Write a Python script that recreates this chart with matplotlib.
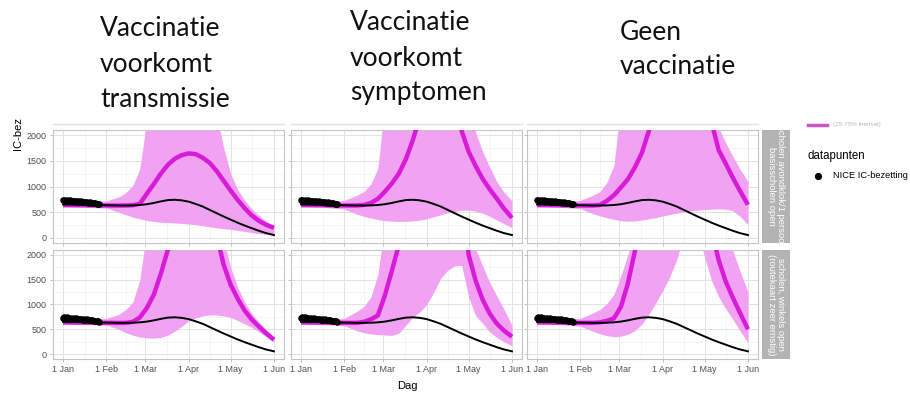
import matplotlib
matplotlib.use("Agg")
import matplotlib.pyplot as plt
from matplotlib.lines import Line2D

plt.rcParams['font.family'] = ['Liberation Sans', 'DejaVu Sans']

# ---- data ----
days = [0, 15, 31, 40, 45, 50, 55, 60, 65, 70, 75, 80, 85, 90, 95, 100,
        105, 110, 115, 120, 125, 130, 135, 140, 145, 151]

# NICE data points, 1 Jan .. 27 Jan
dot_days = list(range(27))
dot_vals = [735, 745, 725, 740, 720, 730, 715, 725, 710, 720, 705, 715, 700, 710,
            695, 705, 690, 700, 685, 690, 680, 685, 670, 675, 665, 660, 655]

# black reference curve (same in every panel)
ref_line = [650, 645, 635, 630, 630, 632, 640, 655, 680, 710, 735, 742, 730, 705,
            660, 610, 545, 480, 415, 355, 295, 240, 190, 140, 95, 55]

# magenta scenario: median, lower and upper bound (values above 2100 run off the panel)
mag_tl = [640, 635, 630, 628, 630, 635, 665, 860, 1050, 1250, 1420, 1540, 1610, 1645,
          1630, 1560, 1460, 1300, 1110, 920, 740, 580, 440, 335, 260, 195]
lo_tl = [600, 595, 580, 500, 450, 405, 370, 340, 320, 305, 295, 290, 280, 270,
         255, 235, 215, 195, 180, 165, 145, 125, 105, 85, 70, 55]
hi_tl = [690, 690, 720, 800, 880, 1020, 1350, 2300, 4000, 4000, 4000, 4000, 4000, 4000,
         4000, 4000, 4000, 2400, 1750, 1250, 940, 730, 570, 440, 330, 230]

mag_tm = [640, 635, 630, 630, 640, 680, 760, 900, 1060, 1250, 1530, 1900, 2350, 3500,
          3500, 3500, 3500, 3500, 2080, 1680, 1400, 1150, 950, 770, 580, 390]
lo_tm = [600, 595, 560, 460, 420, 385, 355, 335, 325, 320, 322, 330, 345, 370,
         410, 450, 490, 515, 535, 540, 520, 480, 420, 350, 280, 200]
hi_tm = [690, 690, 730, 830, 900, 1050, 1350, 2600, 4000, 4000, 4000, 4000, 4000, 4000,
         4000, 4000, 4000, 4000, 4000, 4000, 2050, 1680, 1380, 1100, 900, 720]

mag_tr = [640, 635, 630, 630, 640, 720, 830, 980, 1140, 1370, 1650, 2080, 2600, 3500,
          3500, 3500, 3500, 3500, 3500, 3500, 2250, 1710, 1450, 1180, 930, 645]
lo_tr = [600, 595, 570, 470, 430, 390, 360, 335, 325, 330, 345, 370, 395, 425,
         455, 480, 505, 525, 540, 550, 560, 565, 560, 530, 430, 260]
hi_tr = [690, 690, 730, 830, 900, 1080, 1400, 2600, 4000, 4000, 4000, 4000, 4000, 4000,
         4000, 4000, 4000, 4000, 4000, 4000, 4000, 2150, 1850, 1600, 1350, 1100]

mag_bl = [640, 635, 630, 628, 630, 650, 740, 930, 1200, 1620, 2100, 2700, 3500, 3500,
          3500, 3500, 3500, 2400, 1800, 1400, 1120, 880, 700, 560, 430, 290]
lo_bl = [600, 595, 580, 500, 430, 380, 345, 325, 320, 335, 380, 460, 560, 670,
         730, 770, 790, 790, 770, 740, 680, 610, 540, 450, 360, 240]
hi_bl = [690, 690, 720, 800, 900, 1050, 1500, 2500, 4000, 4000, 4000, 4000, 4000, 4000,
         4000, 4000, 4000, 4000, 2300, 1750, 1350, 1050, 820, 650, 500, 340]

mag_bm = [640, 635, 630, 630, 650, 700, 780, 1180, 1680, 2200, 2700, 3500, 3500, 3500,
          3500, 3500, 3500, 3500, 3500, 2000, 1480, 1100, 820, 620, 480, 350]
lo_bm = [600, 595, 570, 470, 430, 405, 395, 385, 375, 420, 580, 740, 850, 1000,
         1250, 1530, 1690, 1780, 1790, 1150, 775, 620, 450, 340, 250, 166]
hi_bm = [690, 690, 720, 860, 960, 1150, 1600, 2600, 4000, 4000, 4000, 4000, 4000, 4000,
         4000, 4000, 4000, 4000, 4000, 4000, 2120, 1780, 1450, 1180, 920, 580]

mag_br = [640, 635, 630, 630, 640, 670, 720, 950, 1420, 2070, 2700, 3500, 3500, 3500,
          3500, 3500, 3500, 3500, 3500, 3500, 2500, 1900, 1470, 1150, 850, 500]
lo_br = [600, 595, 560, 460, 410, 370, 350, 360, 400, 470, 600, 800, 1030, 1280,
         1560, 1900, 2400, 2800, 2500, 1950, 1480, 1160, 920, 710, 480, 230]
hi_br = [690, 690, 720, 830, 900, 1020, 1200, 1580, 2000, 2500, 4000, 4000, 4000, 4000,
         4000, 4000, 4000, 4000, 4000, 4000, 4000, 4000, 2600, 2100, 1700, 1250]

panels = [[(mag_tl, lo_tl, hi_tl), (mag_tm, lo_tm, hi_tm), (mag_tr, lo_tr, hi_tr)],
          [(mag_bl, lo_bl, hi_bl), (mag_bm, lo_bm, hi_bm), (mag_br, lo_br, hi_br)]]

month_days = [0, 31, 59, 90, 120, 151]
month_labels = ['1 Jan', '1 Feb', '1 Mar', '1 Apr', '1 May', '1 Jun']
y_ticks = [0, 500, 1000, 1500, 2000]

titles = [["Vaccinatie", "voorkomt", "transmissie"],
          ["Vaccinatie", "voorkomt", "symptomen"],
          ["Geen", "vaccinatie"]]
strip_labels = ["scholen avondklok/1 persoon\nbasisscholen open",
                "scholen, winkels open\n(routekaart zeer ernstig)"]

# ---- layout ----
W, H = 910, 395
fig = plt.figure(figsize=(W / 100, H / 100), dpi=100)


def box(x0, y0, x1, y1):
    return [x0 / W, 1 - y1 / H, (x1 - x0) / W, (y1 - y0) / H]


col_x = [(53, 284), (291, 522), (527, 758)]
row_y = [(130, 243), (250, 359)]

mag_col = '#d81bd8'
band_col = '#f2a2f2'
minor_x = [(month_days[i] + month_days[i + 1]) / 2 for i in range(5)]

for r in range(2):
    for c in range(3):
        ax = fig.add_axes(box(col_x[c][0], row_y[r][0], col_x[c][1], row_y[r][1]))
        mag, lo, hi = panels[r][c]
        ax.fill_between(days, lo, hi, color=band_col, lw=0, zorder=2)
        ax.plot(days, mag, color=mag_col, lw=3.2, zorder=3, solid_capstyle='butt')
        ax.plot(days, ref_line, color='black', lw=1.4, zorder=4)
        ax.plot(dot_days, dot_vals, 'o', color='black', ms=3.7, zorder=5)
        ax.set_xlim(-7.2, 158.2)
        ax.set_ylim(-100, 2100)
        ax.set_xticks(month_days)
        ax.set_xticks(minor_x, minor=True)
        ax.set_yticks(y_ticks)
        ax.set_yticks([250, 750, 1250, 1750], minor=True)
        ax.grid(which='major', color='#e2e2e2', lw=0.7, zorder=0)
        ax.grid(which='minor', color='#f1f1f1', lw=0.5, zorder=0)
        ax.set_axisbelow(True)
        ax.tick_params(which='major', length=2.5, width=0.6, color='#b3b3b3',
                       labelsize=6.5, labelcolor='#505050', pad=2)
        ax.tick_params(which='minor', length=0)
        if r == 1:
            ax.set_xticklabels(month_labels)
        else:
            ax.set_xticklabels([])
        if c != 0:
            ax.set_yticklabels([])
        for s in ax.spines.values():
            s.set_color('#c4c4c4')
            s.set_linewidth(0.8)
        if r == 0:
            fig.add_artist(Line2D([col_x[c][0] / W, col_x[c][1] / W], [1 - 124 / H, 1 - 124 / H],
                                  color='#e2e2e2', lw=1))

    # strip on the right
    sax = fig.add_axes(box(762, row_y[r][0], 790, row_y[r][1]))
    sax.set_facecolor('#b3b3b3')
    sax.set_xticks([])
    sax.set_yticks([])
    for s in sax.spines.values():
        s.set_visible(False)
    sax.text(0.5, 0.5, strip_labels[r], rotation=-90, ha='center', va='center',
             color='white', fontsize=6.8, linespacing=1.0, clip_on=True,
             transform=sax.transAxes)

# axis titles
fig.text(18 / W, 1 - 134 / H, 'IC-bez', rotation=90, ha='center', va='center', fontsize=8)
fig.text(407 / W, 1 - 386 / H, 'Dag', ha='center', va='center', fontsize=8)

# legend remnants
fig.add_artist(Line2D([808 / W, 827 / W], [1 - 124.5 / H, 1 - 124.5 / H], color='#cc55cc', lw=2.5))
fig.text(833 / W, 1 - 124.5 / H, '(25-75% interval)', fontsize=4.5, color='#b8b8b8', va='center')
fig.text(808 / W, 1 - 156 / H, 'datapunten', fontsize=8.3, va='center')
fig.add_artist(Line2D([818 / W], [1 - 176 / H], marker='o', color='black', ms=4.2))
fig.text(833 / W, 1 - 176 / H, 'NICE IC-bezetting', fontsize=6.7, va='center')

# slide titles
title_x = [100, 350, 620]
title_base = [[36, 72, 107], [30, 66, 100], [40, 74]]
for t in range(3):
    for line, yb in zip(titles[t], title_base[t]):
        fig.text(title_x[t] / W, 1 - yb / H, line, fontsize=19, family='Lato',
                 ha='left', va='baseline', color='#111111')

fig.savefig('out.png', dpi=100)
